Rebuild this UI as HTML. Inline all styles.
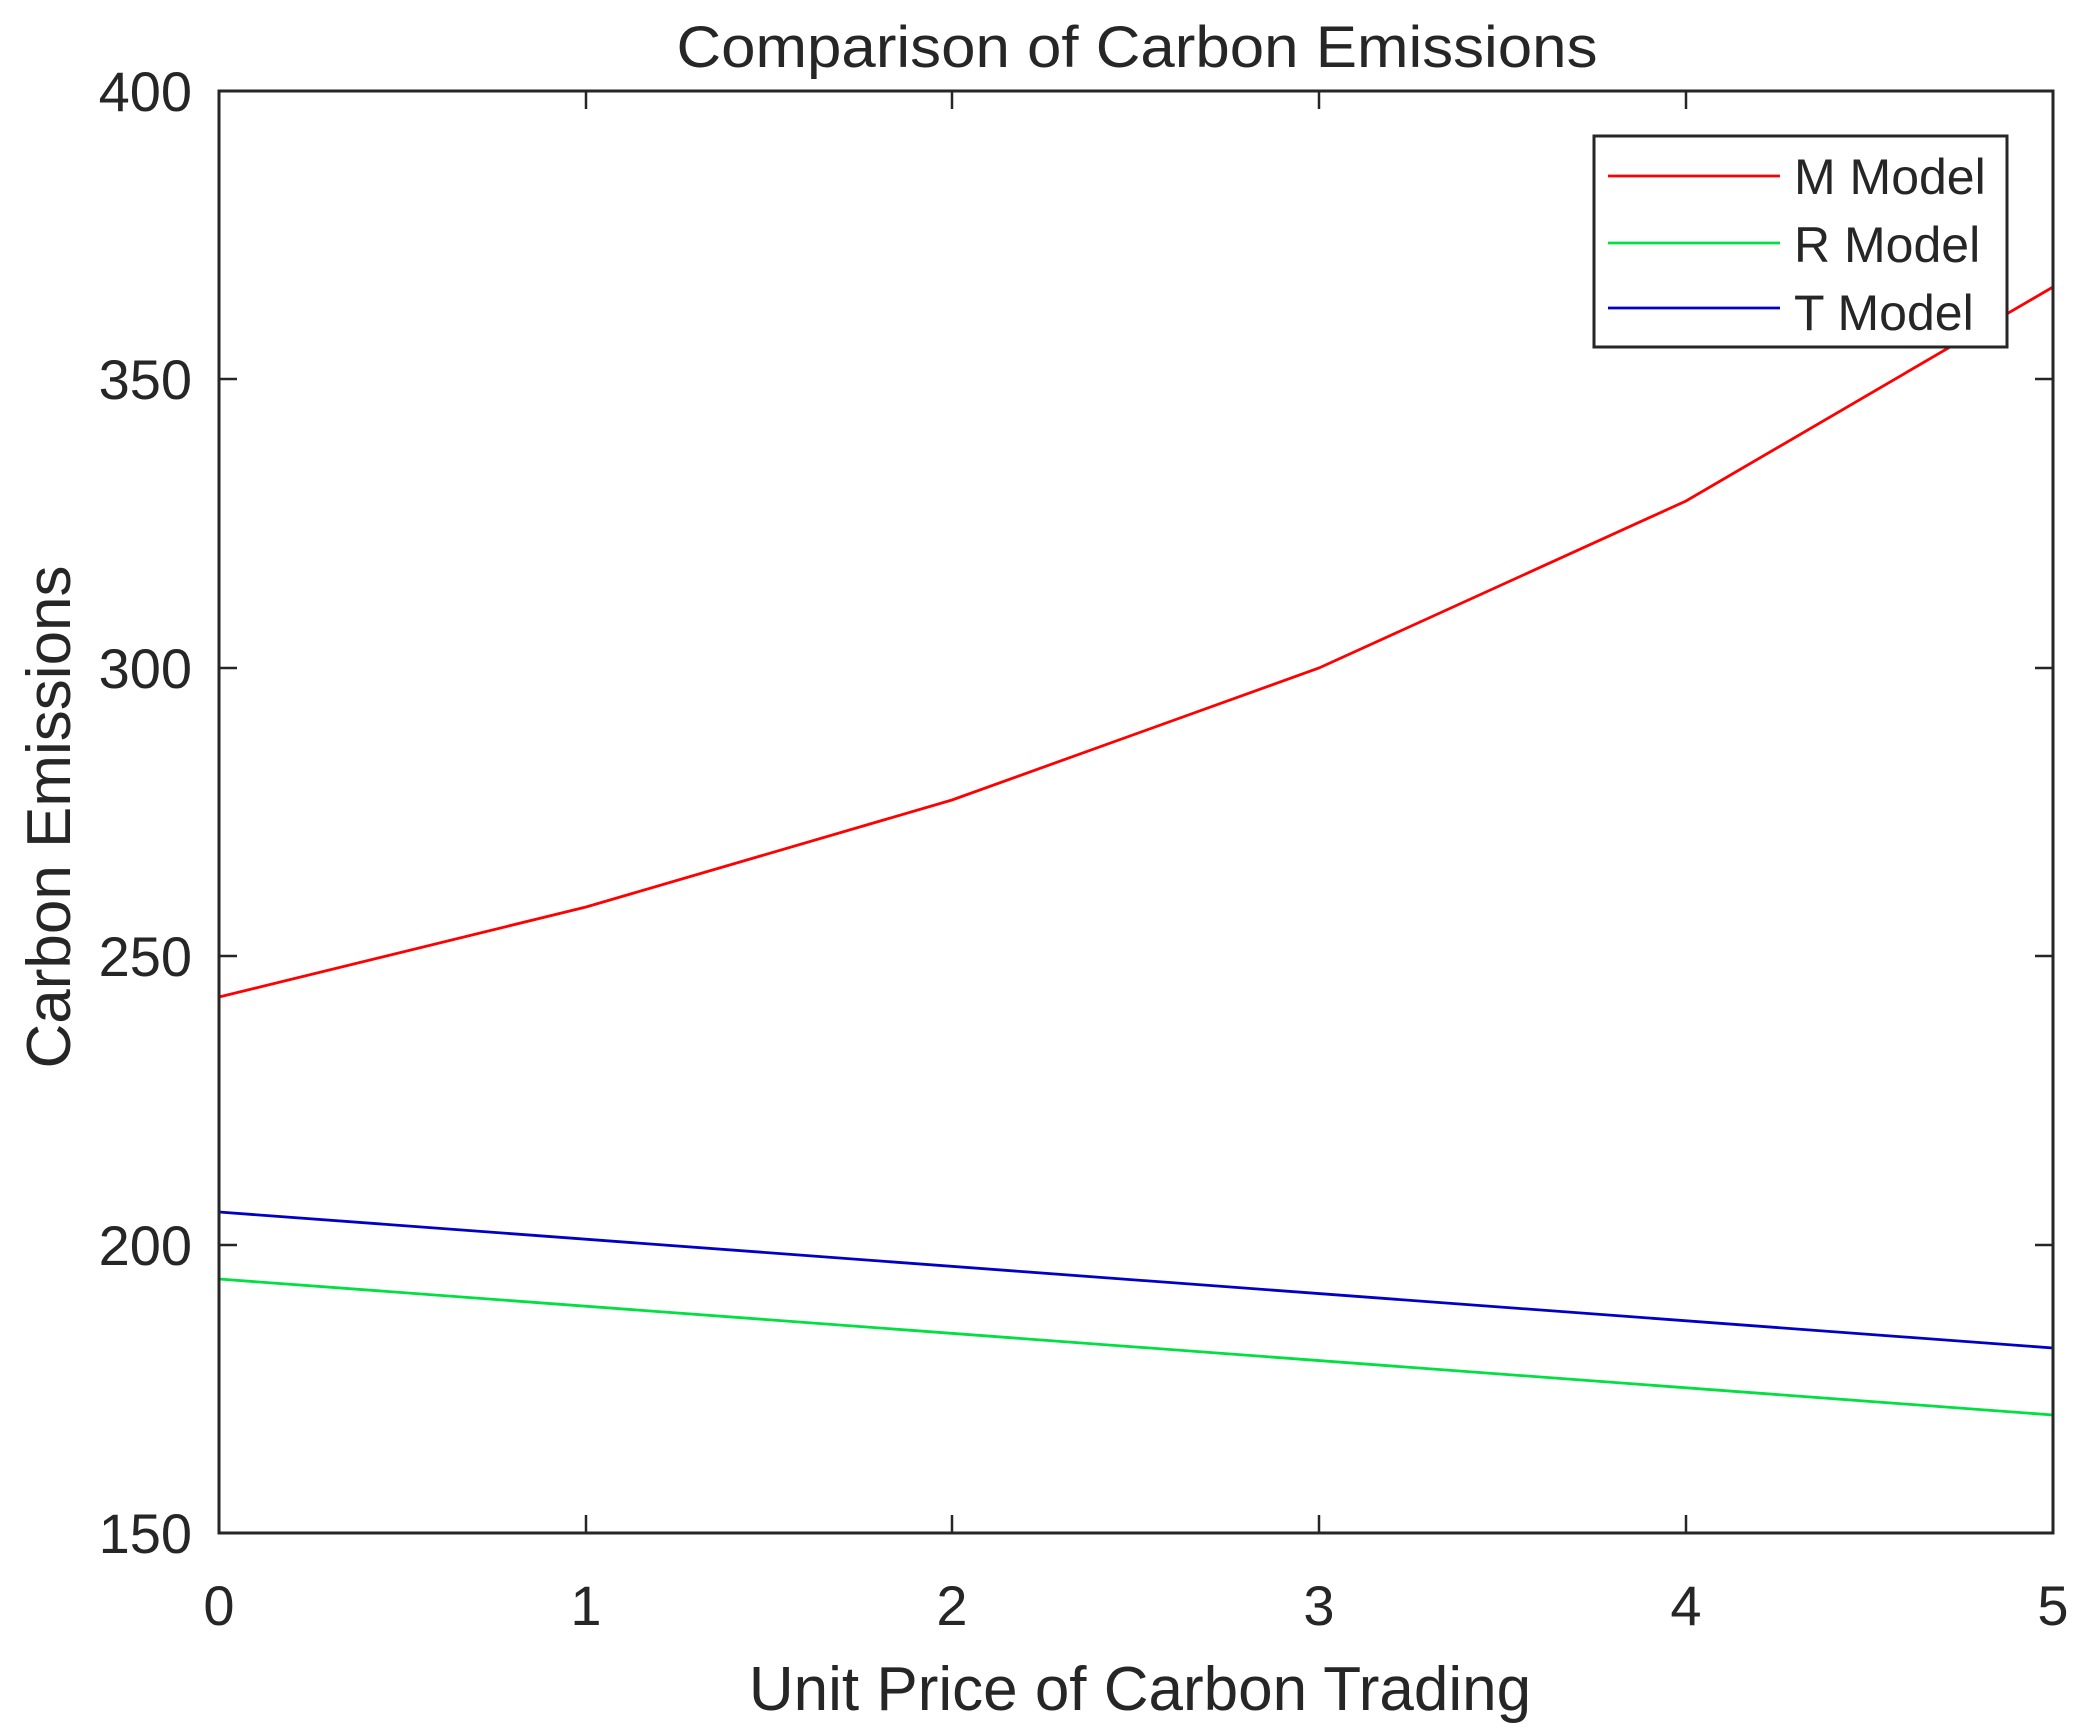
<!DOCTYPE html>
<html><head><style>html,body{margin:0;padding:0;background:#fff;}</style></head>
<body>
<svg width="2095" height="1728" viewBox="0 0 2095 1728" xmlns="http://www.w3.org/2000/svg" font-family="Liberation Sans, Arial, sans-serif" fill="#262626">
<rect width="2095" height="1728" fill="#fff"/>
<text x="1137" y="67" font-size="58" text-anchor="middle" textLength="921" lengthAdjust="spacingAndGlyphs">Comparison of Carbon Emissions</text>
<g stroke="#262626" stroke-width="2.5">
<line x1="219" y1="1533" x2="219" y2="1515"/><line x1="586" y1="1533" x2="586" y2="1515"/><line x1="952" y1="1533" x2="952" y2="1515"/><line x1="1319" y1="1533" x2="1319" y2="1515"/><line x1="1686" y1="1533" x2="1686" y2="1515"/>
<line x1="586" y1="91" x2="586" y2="109"/><line x1="952" y1="91" x2="952" y2="109"/><line x1="1319" y1="91" x2="1319" y2="109"/><line x1="1686" y1="91" x2="1686" y2="109"/>
<line x1="219" y1="379" x2="237" y2="379"/><line x1="219" y1="668" x2="237" y2="668"/><line x1="219" y1="956" x2="237" y2="956"/><line x1="219" y1="1245" x2="237" y2="1245"/>
<line x1="2053" y1="379" x2="2035" y2="379"/><line x1="2053" y1="668" x2="2035" y2="668"/><line x1="2053" y1="956" x2="2035" y2="956"/><line x1="2053" y1="1245" x2="2035" y2="1245"/>
</g>
<g fill="none" stroke-width="2.8">
<polyline stroke="#ff0000" points="219,997 586,907 952,800 1319,668 1686,501 2053,287"/>
<polyline stroke="#00e040" points="219,1279 2053,1415"/>
<polyline stroke="#0000c8" points="219,1212 2053,1348"/>
</g>
<rect x="219" y="91" width="1834" height="1442" fill="none" stroke="#262626" stroke-width="3"/>
<g font-size="56" text-anchor="end">
<text x="192" y="111">400</text><text x="192" y="399">350</text><text x="192" y="688">300</text><text x="192" y="976">250</text><text x="192" y="1265">200</text><text x="192" y="1553">150</text>
</g>
<g font-size="56" text-anchor="middle">
<text x="219" y="1625">0</text><text x="586" y="1625">1</text><text x="952" y="1625">2</text><text x="1319" y="1625">3</text><text x="1686" y="1625">4</text><text x="2053" y="1625">5</text>
</g>
<g font-size="62" text-anchor="middle">
<text x="1140" y="1710">Unit Price of Carbon Trading</text>
<text transform="translate(70,817) rotate(-90)">Carbon Emissions</text>
</g>
<rect x="1594" y="136" width="413" height="211" fill="#fff" stroke="#262626" stroke-width="3"/>
<line x1="1608" y1="176" x2="1780" y2="176" stroke="#ff0000" stroke-width="2.8"/>
<line x1="1608" y1="243" x2="1780" y2="243" stroke="#00e040" stroke-width="2.8"/>
<line x1="1608" y1="308" x2="1780" y2="308" stroke="#0000c8" stroke-width="2.8"/>
<g font-size="50">
<text x="1794" y="194">M Model</text><text x="1794" y="262">R Model</text><text x="1794" y="330">T Model</text>
</g>
</svg>
</body></html>
